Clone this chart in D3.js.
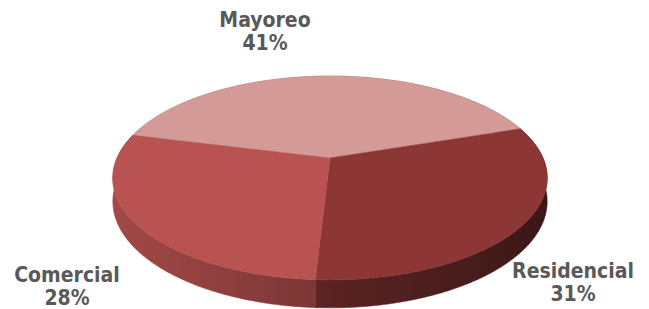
<!DOCTYPE html>
<html>
<head>
<meta charset="utf-8">
<script src="https://cdn.jsdelivr.net/npm/d3@7"></script>
<style>
  html, body { margin: 0; padding: 0; background: #fff; }
  svg { display: block; }
</style>
</head>
<body>
<div id="chart"></div>
<script>
// data
var categories = ["Mayoreo", "Residencial", "Comercial"];
var values = [41, 31, 28];
var percentLabels = ["41%", "31%", "28%"];
var sliceColors = ["#D49A97", "#8C3636", "#B95351"];

var width = 649, height = 309;

// pie geometry (perspective ellipse)
var cx = 330, cy = 158;
var rx = 213, ry = 98;
var persp = 0.196;   // how much the near edge grows
var depth = 22.5;    // thickness of the pie

// where each label sits (x centre, baseline of first line)
var labelPos = {
  "Mayoreo": [265, 27],
  "Residencial": [573, 278],
  "Comercial": [67, 282]
};

var svg = d3.select("#chart").append("svg")
  .attr("width", width)
  .attr("height", height);

var defs = svg.append("defs");

// project an angle (clockwise from the far point) to screen
function project(a, lower) {
  var X = Math.sin(a), Z = -Math.cos(a);
  var s = 1 / (1 - persp * Z);
  return [cx + rx * X * s, cy + ry * Z * s + (lower ? depth * s : 0)];
}

var pie = d3.pie()
  .sort(null)
  .value(function(d) { return d.value; })
  .startAngle(-76 * Math.PI / 180)
  .endAngle(-76 * Math.PI / 180 + 2 * Math.PI);

var data = categories.map(function(c, i) {
  return {name: c, value: values[i], pct: percentLabels[i], color: sliceColors[i]};
});
var arcs = pie(data);

function arcPoints(a0, a1, lower) {
  var n = Math.max(8, Math.ceil((a1 - a0) / 0.01));
  return d3.range(n + 1).map(function(i) {
    return project(a0 + (a1 - a0) * i / n, lower);
  });
}

var line = d3.line();

// side gradients, lighter on the left and darker on the right
arcs.forEach(function(d, i) {
  var c = d3.rgb(d.data.color);
  var g = defs.append("linearGradient")
    .attr("id", "side" + i)
    .attr("gradientUnits", "userSpaceOnUse")
    .attr("x1", cx - rx * 1.02).attr("x2", cx + rx * 1.02)
    .attr("y1", 0).attr("y2", 0);
  [[0, 0.88], [1, 0.42]].forEach(function(st) {
    g.append("stop")
      .attr("offset", st[0])
      .attr("stop-color", d3.rgb(c.r * st[1], c.g * st[1], c.b * st[1]).formatHex());
  });
});

// sides first
svg.append("g").attr("class", "sides")
  .selectAll("path")
  .data(arcs)
  .enter().append("path")
  .attr("d", function(d) {
    var top = arcPoints(d.startAngle, d.endAngle, false);
    var bottom = arcPoints(d.startAngle, d.endAngle, true).reverse();
    return line(top.concat(bottom)) + "Z";
  })
  .attr("fill", function(d, i) { return "url(#side" + i + ")"; })
  .attr("stroke", function(d, i) { return "url(#side" + i + ")"; })
  .attr("stroke-width", 0.5);

// top faces
svg.append("g").attr("class", "tops")
  .selectAll("path")
  .data(arcs)
  .enter().append("path")
  .attr("d", function(d) {
    var pts = [[cx, cy]].concat(arcPoints(d.startAngle, d.endAngle, false));
    return line(pts) + "Z";
  })
  .attr("fill", function(d) { return d.data.color; })
  .attr("stroke", function(d) { return d.data.color; })
  .attr("stroke-width", 0.5);

// labels
var labels = svg.append("g").attr("class", "labels")
  .selectAll("text")
  .data(arcs)
  .enter().append("text")
  .attr("text-anchor", "middle")
  .attr("x", function(d) { return labelPos[d.data.name][0]; })
  .attr("y", function(d) { return labelPos[d.data.name][1]; })
  .attr("fill", "#595959")
  .style("font-family", "'DejaVu Sans Condensed', 'DejaVu Sans', sans-serif")
  .style("font-stretch", "condensed")
  .style("font-weight", "bold")
  .style("font-size", "21px");

labels.append("tspan")
  .attr("x", function(d) { return labelPos[d.data.name][0]; })
  .text(function(d) { return d.data.name; });
labels.append("tspan")
  .attr("x", function(d) { return labelPos[d.data.name][0]; })
  .attr("dy", 23)
  .text(function(d) { return d.data.pct; });
</script>
</body>
</html>
